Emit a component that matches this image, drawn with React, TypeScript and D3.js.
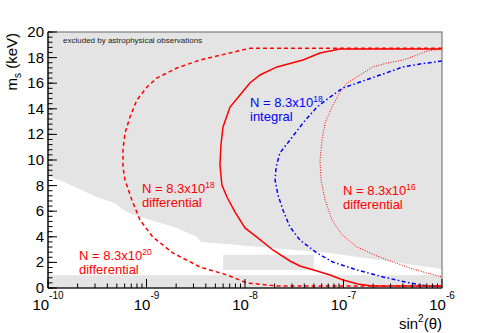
import React from 'react';
import * as d3 from 'd3';

// lower edge of the grey area excluded by astrophysics (sin^2, keV)
const exclEdgeX = [1e-10, 1.45e-10, 1.97e-10, 3.14e-10, 4.68e-10, 6.34e-10, 8.79e-10, 1.28e-9, 2.04e-9, 3.26e-9, 3.57e-9, 4.84e-9, 7.3e-8, 1e-6];
const exclEdgeM = [8.75, 8.28, 7.81, 7.11, 6.64, 5.94, 5.55, 5.16, 4.69, 3.98, 3.59, 3.52, 2.73, 1.48];
const bandTopM = 1.0;
const boxX = [6e-9, 5e-8];
const boxM = [1.4, 2.6];

// N = 8.3x10^18, differential (dashed)
const diff18X = [1e-6, 1.12e-8, 3.49e-9, 2.04e-9, 1.28e-9, 1.01e-9, 8.0e-10, 6.8e-10, 6.05e-10, 5.77e-10, 5.77e-10, 6.05e-10, 7.1e-10, 8.6e-10, 1.16e-9, 1.86e-9, 3.49e-9, 6.56e-9, 1.05e-8, 2.11e-8, 1e-6];
const diff18M = [18.73, 18.73, 17.81, 17.19, 16.41, 15.7, 14.69, 13.36, 12.11, 10.78, 9.45, 8.44, 6.88, 5.31, 3.98, 2.73, 1.64, 1.02, 0.39, 0.16, 0.16];

// solid red
const solidX = [1e-6, 9.2e-8, 5.77e-8, 3.88e-8, 2.11e-8, 1.42e-8, 1.12e-8, 8.9e-9, 7.05e-9, 5.98e-9, 5.7e-9, 5.57e-9, 5.83e-9, 6.56e-9, 7.9e-9, 1.0e-8, 1.32e-8, 1.92e-8, 2.86e-8, 3.61e-8, 5.38e-8, 7.3e-8, 9.9e-8, 1.4e-7, 1.99e-7, 1e-6];
const solidM = [18.67, 18.67, 18.36, 17.81, 17.27, 16.64, 16.02, 15.08, 14.14, 12.58, 11.17, 9.61, 8.05, 7.11, 5.94, 4.69, 3.98, 2.97, 2.11, 1.72, 1.33, 1.02, 0.63, 0.31, 0.16, 0.16];

// N = 8.3x10^18, integral (blue)
const integ18X = [1e-6, 5.98e-7, 4.02e-7, 2.35e-7, 1.47e-7, 9.9e-8, 7.3e-8, 5.38e-8, 3.88e-8, 2.86e-8, 2.26e-8, 2.07e-8, 2.02e-8, 2.16e-8, 2.43e-8, 2.86e-8, 3.61e-8, 5.38e-8, 7.8e-8, 1.37e-7, 2.52e-7, 4.73e-7, 7.05e-7, 1e-6];
const integ18M = [17.73, 17.5, 17.27, 16.64, 16.09, 15.63, 14.92, 14.14, 12.89, 11.56, 10.55, 9.45, 8.44, 7.27, 6.09, 4.77, 3.75, 2.73, 2.03, 1.41, 0.86, 0.39, 0.16, 0.16];

// N = 8.3x10^16, differential (dotted)
const diff16X = [1e-6, 7.05e-7, 5.57e-7, 4.02e-7, 2.77e-7, 1.99e-7, 1.47e-7, 1.09e-7, 9.2e-8, 7.64e-8, 6.49e-8, 6.05e-8, 5.77e-8, 5.92e-8, 6.49e-8, 7.64e-8, 9.66e-8, 1.37e-7, 2.19e-7, 3.18e-7, 4.73e-7, 7.05e-7, 1e-6];
const diff16M = [18.67, 18.52, 18.2, 17.81, 17.58, 17.27, 16.64, 16.02, 15.31, 14.14, 12.89, 11.56, 10.0, 8.44, 6.88, 5.31, 4.14, 3.2, 2.5, 2.03, 1.56, 1.17, 0.86];

const yMajor = d3.range(0, 20.001, 2);
const yMinor = d3.range(0, 20.001, 0.4);

const font = 'Liberation Sans, Arial, Helvetica, sans-serif';

const xs = d3.scaleLog().domain([1e-10, 1e-6]).range([48, 442]);
const ys = d3.scaleLinear().domain([0, 20]).range([288, 32]);

const pts = (X: number[], M: number[]) => X.map((x, i) => [xs(x), ys(M[i])] as [number, number]);
const line = d3.line();

function Label({ x, y, color, exp, word }: { x: number; y: number; color: string; exp: string; word: string }) {
  return (
    <g fill={color} fontFamily={font}>
      <text x={x} y={y} fontSize={13}>
        N = 8.3x10<tspan fontSize={8.5} dy={-5.5}>{exp}</tspan>
      </text>
      <text x={x} y={y + 13.5} fontSize={13}>{word}</text>
    </g>
  );
}

export default function App() {
  const [x0, x1] = xs.range();
  const [y0, y1] = ys.range();

  const edge = pts(exclEdgeX, exclEdgeM);
  const upper: [number, number][] = [[x0, y1], ...edge, [x1, y1]];

  const xTicks = xs.ticks();
  const isMajor = (v: number) => Math.abs(Math.log10(v) - Math.round(Math.log10(v))) < 1e-6;

  return (
    <svg width={491} height={333} style={{ position: 'absolute', left: 0, top: 0, background: '#fff' }}>
      <rect x={x0} y={y1} width={x1 - x0} height={y0 - y1} fill="#fff" />
      <path d={line(upper) || ''} fill="#e4e4e4" />
      <rect x={xs(boxX[0])} y={ys(boxM[1])} width={xs(boxX[1]) - xs(boxX[0])} height={ys(boxM[0]) - ys(boxM[1])} fill="#e4e4e4" />
      <rect x={x0} y={ys(bandTopM)} width={x1 - x0} height={y0 - ys(bandTopM)} fill="#e4e4e4" />

      <text x={63} y={43} fontSize={8} fontFamily={font} fill="#222">excluded by astrophysical observations</text>

      <path d={line(pts(diff16X, diff16M)) || ''} fill="none" stroke="#ff0000" strokeWidth={1} strokeDasharray="1 1.5" />
      <path d={line(pts(integ18X, integ18M)) || ''} fill="none" stroke="#0000ff" strokeWidth={1.5} strokeDasharray="4 2.5 1.5 2.5" />
      <path d={line(pts(solidX, solidM)) || ''} fill="none" stroke="#ff0000" strokeWidth={1.5} />
      <path d={line(pts(diff18X, diff18M)) || ''} fill="none" stroke="#ff0000" strokeWidth={1.5} strokeDasharray="4 3" />

      <Label x={250} y={107} color="#0000ff" exp="18" word="integral" />
      <Label x={142} y={193} color="#ff0000" exp="18" word="differential" />
      <Label x={343} y={195} color="#ff0000" exp="16" word="differential" />
      <Label x={79} y={260} color="#ff0000" exp="20" word="differential" />

      {/* frame */}
      <rect x={x0} y={y1} width={x1 - x0} height={y0 - y1} fill="none" stroke="#666" strokeWidth={1} />

      {/* y axis */}
      <line x1={x0} x2={x0} y1={y0} y2={y1} stroke="#000" strokeWidth={1.2} />
      {yMinor.map((v) => (
        <line key={'ym' + v} x1={x0} x2={x0 + 4.5} y1={ys(v)} y2={ys(v)} stroke="#000" />
      ))}
      {yMajor.map((v) => (
        <g key={'yM' + v}>
          <line x1={x0} x2={x0 + 9} y1={ys(v)} y2={ys(v)} stroke="#000" />
          <text x={44} y={ys(v) + 5} textAnchor="end" fontSize={15} fontFamily={font}>{v}</text>
        </g>
      ))}

      {/* x axis */}
      <line x1={x0} x2={x1} y1={y0} y2={y0} stroke="#000" strokeWidth={1.2} />
      {xTicks.map((v, i) => (
        <line key={'xt' + i} x1={xs(v)} x2={xs(v)} y1={y0} y2={y0 - (isMajor(v) ? 9 : 4.5)} stroke="#000" />
      ))}
      {xTicks.filter(isMajor).map((v, i) => (
        <text key={'xl' + i} x={xs(v)} y={310} textAnchor="middle" fontSize={15} fontFamily={font}>
          10<tspan fontSize={10} dy={-11}>{Math.round(Math.log10(v))}</tspan>
        </text>
      ))}

      {/* titles */}
      <text transform="translate(17,33) rotate(-90)" textAnchor="end" fontSize={15} fontFamily={font}>
        m<tspan fontSize={10} dy={4}>s</tspan><tspan dy={-4}> (keV)</tspan>
      </text>
      <text x={442} y={329} textAnchor="end" fontSize={15} fontFamily={font}>
        sin<tspan fontSize={10} dy={-7}>2</tspan><tspan dy={7}>(θ)</tspan>
      </text>
    </svg>
  );
}
